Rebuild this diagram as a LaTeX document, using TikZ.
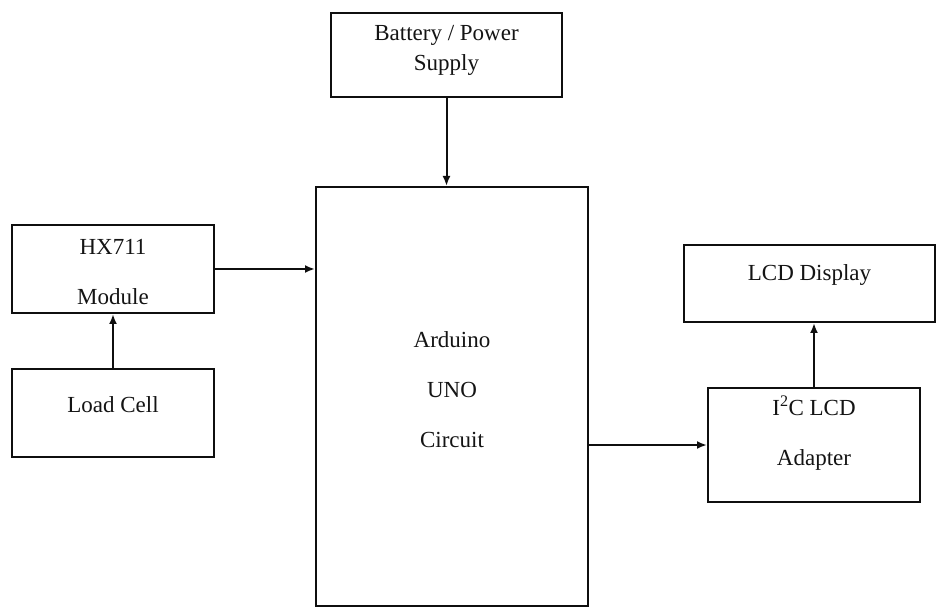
\documentclass[tikz,border=0pt]{standalone}
\usepackage{fontspec}
\setmainfont{Liberation Serif}
\usetikzlibrary{arrows.meta,calc}
\definecolor{LineClr}{RGB}{15,15,15}
\definecolor{TextClr}{RGB}{20,20,20}

\begin{document}
\begin{tikzpicture}[x=1pt,y=-1pt,
  blk/.style={draw=LineClr,line width=2pt,fill=white,inner sep=0pt},
  txt/.style={text=TextClr,align=center,font=\fontsize{23}{30}\selectfont},
  wide/.style={txt,font=\fontsize{23}{50}\selectfont},
  con/.style={-{Latex[length=10pt,width=8pt]},draw=LineClr,line width=2pt}]
\useasboundingbox (0,0) rectangle (937,609);

\node[blk,minimum width=231,minimum height=84,
  label={[txt,yshift=5]center:Battery / Power\\Supply}] (bat) at (446.5,55) {};
\node[blk,minimum width=272,minimum height=419,
  label={[wide,yshift=7]center:Arduino\\UNO\\Circuit}] (ard) at (452,396.5) {};
\node[blk,minimum width=202,minimum height=88,
  label={[wide,yshift=-3]center:HX711\\Module}] (hx) at (113,269) {};
\node[blk,minimum width=202,minimum height=88,
  label={[txt,yshift=8]center:Load Cell}] (load) at (113,413) {};
\node[blk,minimum width=251,minimum height=77,
  label={[txt,yshift=8]center:LCD Display}] (lcd) at (809.5,283.5) {};
\node[blk,minimum width=212,minimum height=114,
  label={[wide,yshift=12]center:I\textsuperscript{2}C LCD\\Adapter}] (i2c) at (814,445) {};

\draw[con] (bat.south) -- (bat.south |- ard.north);
\draw[con] (hx.east) -- (hx.east -| ard.west);
\draw[con] (load.north) -- (hx.south);
\draw[con] (ard.east |- i2c.west) -- (i2c.west);
\draw[con] (i2c.north) -- (i2c.north |- lcd.south);

\end{tikzpicture}
\end{document}
